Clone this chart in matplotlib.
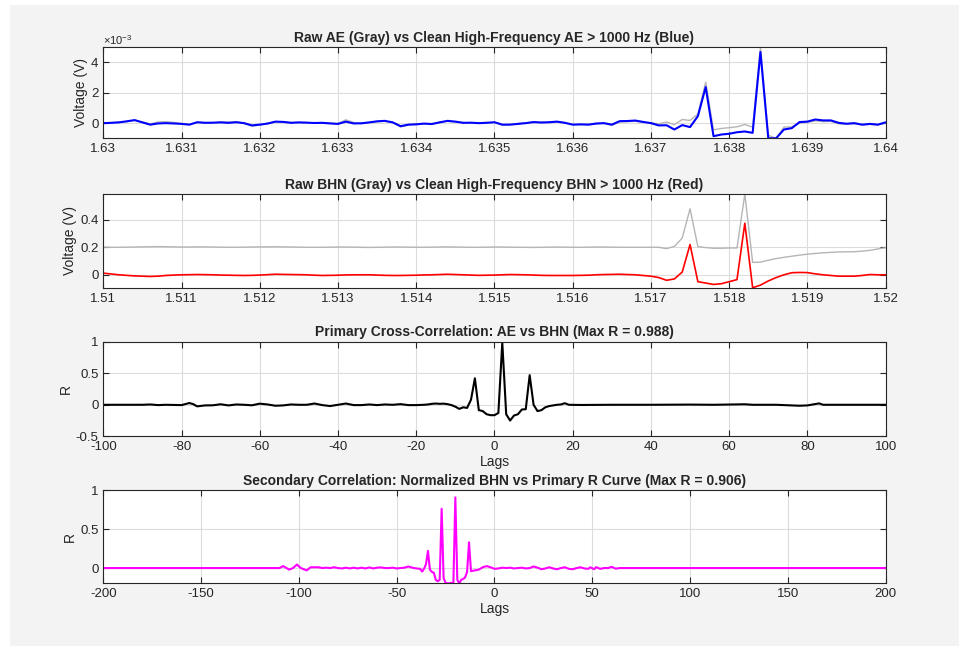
import numpy as np
import matplotlib.pyplot as plt
from matplotlib.patches import Rectangle
from matplotlib.ticker import FuncFormatter

plt.rcParams['font.family'] = ['Liberation Sans', 'DejaVu Sans']
plt.rcParams['axes.unicode_minus'] = False
plt.rcParams['mathtext.default'] = 'regular'

# ---- data ----
# panel 1: AE window 1.630 - 1.640 s, step 0.0001 s (values in 1e-3 V)
ae_t0, ae_dt = 1.63, 0.0001
ae_raw = [0.0, 0.03, 0.06, 0.1, 0.18, 0.08, -0.05, 0.08, 0.1, 0.05,
          -0.02, -0.08, 0.04, 0.05, 0.02, 0.08, 0.06, 0.1, -0.02, -0.2,
          -0.12, 0.0, 0.08, 0.1, 0.05, 0.03, 0.05, 0.0, 0.04, 0.0,
          -0.03, 0.22, 0.05, -0.03, 0.03, 0.1, 0.12, 0.03, -0.25, -0.12,
          -0.05, -0.05, -0.03, 0.08, 0.12, 0.08, 0.04, 0.0, 0.02, 0.05,
          0.03, -0.12, -0.08, -0.03, 0.02, 0.05, 0.06, 0.04, 0.08, 0.04,
          -0.08, -0.1, -0.08, 0.0, -0.02, -0.14, 0.08, 0.1, 0.12, 0.05,
          0.02, -0.05, 0.07, -0.1, 0.24, 0.18, 0.6, 2.7, -0.44, -0.35,
          -0.3, -0.24, -0.09, -0.26, 5.0, -0.8, -1.0, -0.26, -0.25, 0.0,
          0.05, 0.15, 0.1, 0.12, -0.05, -0.06, -0.04, -0.12, -0.08, -0.12,
          0.0]
ae_clean = [0.0, 0.02, 0.05, 0.12, 0.2, 0.05, -0.1, -0.02, 0.0, -0.02,
            -0.05, -0.1, 0.06, 0.02, 0.03, 0.05, 0.02, 0.06, 0.0, -0.15,
            -0.1, -0.03, 0.1, 0.08, 0.02, 0.05, 0.03, 0.01, 0.02, -0.02,
            -0.05, 0.1, -0.02, -0.01, 0.05, 0.12, 0.15, 0.05, -0.2, -0.1,
            -0.08, -0.03, -0.06, 0.05, 0.15, 0.1, 0.02, 0.03, 0.0, 0.02,
            0.06, -0.1, -0.1, -0.05, 0.0, 0.07, 0.04, 0.06, 0.1, 0.02,
            -0.1, -0.08, -0.1, -0.03, 0.0, -0.1, 0.13, 0.14, 0.17, 0.08,
            0.0, -0.15, -0.14, -0.42, -0.13, -0.26, 0.46, 2.38, -0.86, -0.75,
            -0.7, -0.6, -0.55, -0.64, 4.69, -1.0, -1.0, -0.42, -0.33, 0.07,
            0.1, 0.24, 0.18, 0.18, 0.02, -0.04, 0.0, -0.1, -0.05, -0.1,
            0.05]

# panel 2: BHN window 1.510 - 1.520 s, step 0.0001 s
bhn_t0, bhn_dt = 1.51, 0.0001
bhn_raw = [0.201, 0.2, 0.2, 0.201, 0.202, 0.203, 0.204, 0.205, 0.204, 0.203,
           0.202, 0.202, 0.203, 0.203, 0.202, 0.201, 0.2, 0.2, 0.201, 0.202,
           0.203, 0.203, 0.204, 0.203, 0.202, 0.201, 0.2, 0.2, 0.2, 0.201,
           0.202, 0.202, 0.201, 0.2, 0.199, 0.2, 0.201, 0.202, 0.202, 0.201,
           0.2, 0.2, 0.201, 0.202, 0.203, 0.202, 0.201, 0.2, 0.2, 0.201,
           0.202, 0.202, 0.201, 0.2, 0.2, 0.199, 0.2, 0.201, 0.202, 0.201,
           0.2, 0.2, 0.201, 0.202, 0.202, 0.201, 0.2, 0.2, 0.2, 0.2,
           0.2, 0.2, 0.19, 0.207, 0.267, 0.48, 0.205, 0.198, 0.193, 0.193,
           0.195, 0.195, 0.587, 0.09, 0.092, 0.106, 0.118, 0.127, 0.135, 0.143,
           0.15, 0.155, 0.16, 0.163, 0.166, 0.167, 0.168, 0.172, 0.178, 0.188,
           0.197]
bhn_clean = [0.012, 0.006, 0.0, -0.004, -0.008, -0.01, -0.012, -0.01, -0.005, -0.002,
             0.0, 0.001, 0.002, 0.001, 0.0, -0.002, -0.003, -0.004, -0.005, -0.004,
             -0.002, 0.001, 0.004, 0.003, 0.002, 0.001, 0.0, -0.003, -0.005, -0.004,
             -0.003, -0.001, 0.0, 0.0, 0.0, -0.002, -0.004, -0.005, -0.005, -0.004,
             -0.003, -0.001, 0.0, 0.002, 0.004, 0.002, 0.0, -0.002, -0.004, -0.003,
             -0.002, 0.0, 0.002, 0.001, 0.0, -0.002, -0.004, -0.005, -0.005, -0.005,
             -0.005, -0.004, -0.003, 0.0, 0.002, 0.003, 0.004, 0.002, 0.0, -0.005,
             -0.01, -0.02, -0.04, -0.03, 0.02, 0.22, -0.05, -0.06, -0.07, -0.065,
             -0.05, -0.035, 0.375, -0.094, -0.075, -0.045, -0.02, 0.0, 0.015, 0.017,
             0.016, 0.007, 0.0, -0.005, -0.01, -0.01, -0.01, -0.005, 0.002, 0.0,
             0.0]

# panel 3: primary cross-correlation (lag, R)
prim_lags = [-100, -90, -88, -86, -84, -80, -78, -77, -76, -74, -72, -70, -68, -66,
             -64, -62, -60, -58, -56, -54, -52, -50, -48, -46, -44, -42, -40, -38,
             -36, -34, -32, -30, -28, -26, -24, -22, -20, -18, -17, -16, -15, -14,
             -13, -12, -11, -10, -9, -8, -7, -6, -5, -4, -3, -2, -1, 0, 1, 2, 3,
             4, 5, 6, 7, 8, 9, 10, 11, 12, 13, 14, 16, 17, 18, 19, 22, 30, 40, 50,
             56, 64, 66, 72, 78, 80, 83, 84, 90, 100]
prim_r = [0.0, 0.0, 0.005, -0.005, 0.0, -0.005, 0.028, 0.01, -0.025, -0.01, -0.008,
          0.008, -0.01, 0.005, 0.0, -0.008, 0.018, 0.005, -0.015, -0.01, 0.005, 0.0,
          0.0, 0.02, -0.005, -0.02, 0.0, 0.02, -0.005, -0.005, 0.005, -0.005, 0.005,
          0.0, 0.01, -0.005, -0.005, 0.0, 0.005, 0.015, 0.02, 0.015, 0.018, 0.01,
          -0.005, -0.03, -0.065, -0.04, -0.05, 0.08, 0.42, -0.085, -0.1, -0.15,
          -0.165, -0.165, -0.13, 0.988, -0.15, -0.25, -0.17, -0.15, -0.075, -0.07,
          0.47, 0.0, -0.1, -0.085, -0.04, -0.02, 0.0, 0.005, 0.025, 0.0, -0.003,
          0.0, 0.0, 0.003, 0.0, 0.008, 0.0, 0.0, -0.015, -0.01, 0.022, 0.0, 0.0, 0.0]

# panel 4: secondary correlation (lag, R)
sec_lags = [-200, -110, -108, -105, -103, -101, -99, -96, -94, -90, -88, -86, -84,
            -82, -80, -78, -76, -74, -72, -70, -68, -66, -64, -62, -60, -58, -56,
            -54, -52, -50, -48, -46, -44, -42, -40, -38, -37, -36, -35, -34, -33,
            -32, -31, -30, -29, -28, -27, -26, -25, -24, -23, -22, -21, -20, -19,
            -18, -17, -16, -15, -14, -13, -12, -11, -10, -8, -6, -4, -2, 0, 2, 4,
            6, 8, 10, 12, 14, 16, 18, 20, 22, 24, 26, 28, 30, 32, 34, 36, 38, 40,
            42, 44, 46, 48, 49, 51, 52, 54, 56, 58, 60, 62, 64, 66, 200]
sec_r = [0.0, 0.0, 0.025, -0.02, 0.0, 0.045, 0.0, -0.03, 0.01, 0.01, 0.0, 0.005,
         0.0, 0.01, 0.0, -0.005, 0.005, -0.005, 0.005, -0.005, 0.005, -0.005,
         0.008, -0.005, 0.005, 0.008, 0.0, 0.0, 0.005, -0.005, 0.0, 0.005, 0.02,
         0.005, -0.005, -0.01, -0.045, -0.01, 0.05, 0.22, -0.02, -0.05, -0.06,
         -0.15, -0.17, -0.15, 0.76, -0.13, -0.19, -0.196, -0.196, -0.19, -0.196,
         0.906, -0.15, -0.196, -0.15, -0.14, -0.12, -0.05, 0.33, -0.04, -0.035,
         -0.03, -0.02, 0.01, 0.025, 0.01, -0.01, -0.005, 0.005, 0.0, 0.005,
         -0.005, 0.0, 0.005, -0.005, 0.0, 0.02, 0.005, -0.015, -0.005, 0.01,
         -0.005, -0.015, 0.0, 0.01, -0.01, -0.015, 0.0, 0.01, -0.005, -0.01, 0.01,
         -0.015, 0.012, -0.01, 0.0, 0.0, 0.015, -0.008, 0.0, 0.0, 0.0]

ae_time = ae_t0 + ae_dt * np.arange(len(ae_raw))
bhn_time = bhn_t0 + bhn_dt * np.arange(len(bhn_raw))

# ---- figure ----
fig = plt.figure(figsize=(9.59, 6.46), dpi=100, facecolor='white')
fig.patches.append(Rectangle((10 / 959, 0), 1, 1 - 5 / 646, transform=fig.transFigure,
                             facecolor='#f3f3f3', edgecolor='none', zorder=-10))

txt = '#262626'
left, width = 0.1077, 0.8158
axes_pos = [(0.7859, 0.1409), (0.5546, 0.1450), (0.3246, 0.1464), (0.0970, 0.1444)]
axs = [fig.add_axes([left, b, width, h]) for b, h in axes_pos]


def style(ax):
    ax.set_facecolor('white')
    ax.grid(True, color='#dcdcdc', linewidth=0.8)
    ax.set_axisbelow(True)
    ax.tick_params(direction='in', top=True, right=True, labelsize=9.5,
                   colors=txt, length=4, width=0.8)
    for s in ax.spines.values():
        s.set_color(txt)
        s.set_linewidth(0.8)


fmt = FuncFormatter(lambda v, p: '%g' % round(v, 6))
title_kw = dict(fontsize=10, fontweight='bold', color=txt, pad=4)

ax = axs[0]
ax.plot(ae_time, ae_raw, color='#b5b5b5', lw=1.0)
ax.plot(ae_time, ae_clean, color='#0000ff', lw=1.5)
ax.set_xlim(1.63, 1.64)
ax.set_ylim(-1.0, 5.0)
ax.set_xticks(np.linspace(1.63, 1.64, 11))
ax.set_yticks([0, 2, 4])
ax.xaxis.set_major_formatter(fmt)
ax.set_ylabel('Voltage (V)', fontsize=10, color=txt, labelpad=2)
ax.set_title('Raw AE (Gray) vs Clean High-Frequency AE > 1000 Hz (Blue)', **title_kw)
ax.text(0, 1.03, r'$\times10^{-3}$', transform=ax.transAxes, fontsize=8, color=txt)
style(ax)

ax = axs[1]
ax.plot(bhn_time, bhn_raw, color='#b5b5b5', lw=1.0)
ax.plot(bhn_time, bhn_clean, color='#ff0000', lw=1.2)
ax.set_xlim(1.51, 1.52)
ax.set_ylim(-0.094, 0.587)
ax.set_xticks(np.linspace(1.51, 1.52, 11))
ax.set_yticks([0, 0.2, 0.4])
ax.xaxis.set_major_formatter(fmt)
ax.yaxis.set_major_formatter(fmt)
ax.set_ylabel('Voltage (V)', fontsize=10, color=txt, labelpad=2)
ax.set_title('Raw BHN (Gray) vs Clean High-Frequency BHN > 1000 Hz (Red)', **title_kw)
style(ax)

ax = axs[2]
ax.plot(prim_lags, prim_r, color='black', lw=1.5)
ax.set_xlim(-100, 100)
ax.set_ylim(-0.5, 1.0)
ax.set_xticks(np.arange(-100, 101, 20))
ax.set_yticks([-0.5, 0, 0.5, 1])
ax.yaxis.set_major_formatter(fmt)
ax.set_ylabel('R', fontsize=10, color=txt, labelpad=2)
ax.set_xlabel('Lags', fontsize=10, color=txt, labelpad=1)
ax.set_title('Primary Cross-Correlation: AE vs BHN (Max R = 0.988)', **title_kw)
style(ax)

ax = axs[3]
ax.plot(sec_lags, sec_r, color='#ff00ff', lw=1.5)
ax.set_xlim(-200, 200)
ax.set_ylim(-0.196, 1.0)
ax.set_xticks(np.arange(-200, 201, 50))
ax.set_yticks([0, 0.5, 1])
ax.yaxis.set_major_formatter(fmt)
ax.set_ylabel('R', fontsize=10, color=txt, labelpad=2)
ax.set_xlabel('Lags', fontsize=10, color=txt, labelpad=1)
ax.set_title('Secondary Correlation: Normalized BHN vs Primary R Curve (Max R = 0.906)',
             **title_kw)
style(ax)

fig.savefig('out.png', dpi=100, facecolor=fig.get_facecolor())
